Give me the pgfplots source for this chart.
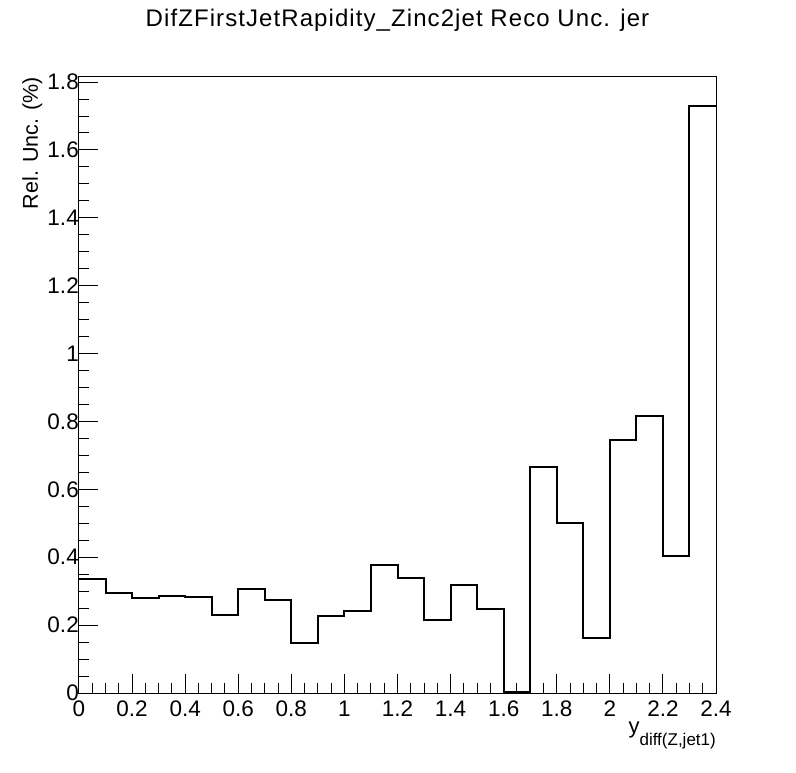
\documentclass[border=0pt]{standalone}
\usepackage{pgfplots}
\pgfplotsset{compat=1.18}
\usepackage{fontspec}
\setmainfont{Liberation Sans}
\begin{document}
\begin{tikzpicture}[x=1pt,y=1pt]
\path[use as bounding box] (0,0) rectangle (796,772);
\begin{axis}[
  at={(79pt,79pt)}, anchor=south west,
  scale only axis, width=637pt, height=616pt,
  xmin=0, xmax=2.4, ymin=0, ymax=1.815,
  xtick={0,0.2,0.4,0.6,0.8,1,1.2,1.4,1.6,1.8,2,2.2,2.4},
  ytick={0,0.2,0.4,0.6,0.8,1,1.2,1.4,1.6,1.8},
  xticklabels={0,0.2,0.4,0.6,0.8,1,1.2,1.4,1.6,1.8,2,2.2,2.4},
  yticklabels={0,0.2,0.4,0.6,0.8,1,1.2,1.4,1.6,1.8},
  minor x tick num=3, minor y tick num=3,
  xtick pos=bottom, ytick pos=left,
  tick align=inside,
  major tick length=19pt, minor tick length=10pt,
  axis line style={line width=1pt},
  every tick/.style={line width=1pt, black},
  tick label style={font=\fontsize{22.5}{22.5}\selectfont},
  xticklabel style={yshift=-4.7pt},
  yticklabel style={xshift=3.3pt},
  title={DifZFirstJetRapidity\_Zinc2jet Reco Unc. jer},
  title style={at={(rel axis cs:0.5,1)}, anchor=base, yshift=44pt,
    font=\fontsize{24}{24}\selectfont\addfontfeature{LetterSpace=4.5}},
  xlabel={y\raisebox{-0.55em}{\fontsize{17}{17}\selectfont diff(Z,jet1)}},
  xlabel style={at={(rel axis cs:1,0)}, anchor=base east, yshift=-40.5pt,
    font=\fontsize{22}{22}\selectfont, inner sep=0pt},
  ylabel={Rel. Unc. (\%)},
  ylabel style={at={([xshift=-41pt]rel axis cs:0,1)}, anchor=base east,
    font=\fontsize{21.5}{21.5}\selectfont, inner sep=0pt},
]
\addplot[const plot mark left, black, line width=2pt, mark=none] coordinates {
(0,0.336) (0.1,0.295) (0.2,0.281) (0.3,0.287) (0.4,0.284) (0.5,0.230)
(0.6,0.307) (0.7,0.274) (0.8,0.148) (0.9,0.228) (1.0,0.243) (1.1,0.378)
(1.2,0.340) (1.3,0.216) (1.4,0.319) (1.5,0.247) (1.6,0.004) (1.7,0.666)
(1.8,0.502) (1.9,0.161) (2.0,0.745) (2.1,0.816) (2.2,0.404) (2.3,1.730)
(2.4,1.730)
};
\end{axis}
\end{tikzpicture}
\end{document}
